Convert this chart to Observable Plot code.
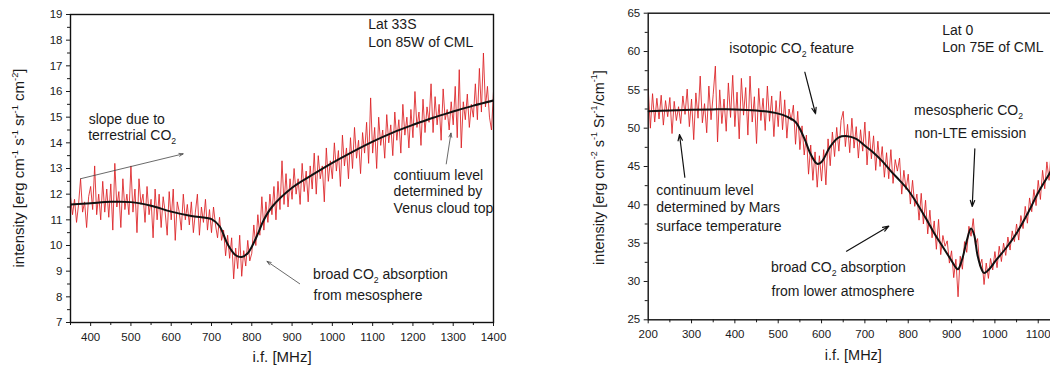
<!DOCTYPE html>
<html><head><meta charset="utf-8">
<script src="https://cdn.jsdelivr.net/npm/d3@7"></script>
<script src="https://cdn.jsdelivr.net/npm/@observablehq/plot@0.6"></script>
<style>
html,body{margin:0;padding:0;background:#fff;overflow:hidden;}
#wrap{position:relative;width:1050px;height:367px;overflow:hidden;}
#wrap svg{position:absolute;top:0;}
</style></head><body><div id="wrap"></div>
<script>
// ---------- Venus (left panel) ----------
const venusStart = 350, venusStep = 5;
const venusNoisy = [
 11.9,11.2,11.8,10.9,11.6,12.6,11.3,11.7,10.7,11.9,
 12.3,11.4,13.1,11.2,12.0,11.0,12.5,11.3,12.2,11.1,
 12.4,10.6,13.2,11.5,12.1,10.7,12.6,11.4,12.0,11.2,
 13.1,11.3,12.2,10.5,12.6,11.6,12.0,10.9,12.3,11.2,
 11.8,10.3,12.2,11.0,12.0,10.7,11.9,11.3,10.4,12.1,
 11.0,12.2,10.2,11.7,11.3,10.6,12.0,11.0,11.6,10.8,
 11.7,10.5,11.3,12.0,10.4,11.5,10.9,11.8,10.6,11.4,
 10.5,11.5,10.8,10.3,11.1,10.2,10.6,9.6,10.4,9.5,
 10.3,8.7,9.9,9.1,10.4,8.8,9.8,9.2,10.2,9.4,
 9.7,10.8,10.0,11.2,10.4,11.9,10.6,11.7,10.9,12.0,
 11.2,12.3,11.0,12.5,11.4,13.3,11.6,12.8,11.5,12.6,
 11.8,13.0,12.0,12.6,11.6,13.2,12.1,12.9,11.7,13.1,
 12.2,13.6,12.0,13.5,12.6,13.1,11.7,13.8,12.5,13.3,
 12.6,14.0,12.9,13.7,12.3,14.3,13.1,13.8,12.6,14.2,
 13.0,14.6,13.4,14.1,12.8,14.4,13.6,14.8,13.2,15.75,
 13.6,14.6,13.0,15.0,13.9,14.5,13.4,15.1,14.0,14.7,
 13.5,15.2,14.1,14.9,13.6,15.5,14.3,15.0,13.8,15.3,
 14.2,16.0,14.6,15.2,13.9,15.7,14.4,15.4,14.8,16.3,
 14.4,15.8,14.7,15.5,14.1,16.1,14.9,15.3,14.5,15.6,
 14.7,16.2,14.2,16.85,13.8,15.6,14.9,15.9,14.6,15.5,
 15.0,16.3,14.9,16.9,15.2,17.5,15.4,16.2,15.0,14.5,
 16.0];
const venusFitFreq = [350,400,450,500,550,600,650,700,720,740,760,775,790,800,815,830,850,900,950,1000,1050,1100,1150,1200,1250,1300,1350,1400];
const venusFitVal  = [11.6,11.65,11.7,11.69,11.55,11.32,11.15,11.03,10.75,10.05,9.62,9.55,9.7,9.95,10.45,11.0,11.5,12.25,12.75,13.22,13.65,14.05,14.4,14.7,14.98,15.22,15.45,15.65];
const venusXTicks = [400,500,600,700,800,900,1000,1100,1200,1300,1400];
const venusXMinor = [350,450,550,650,750,850,950,1050,1150,1250,1350];
const venusYTicks = [7,8,9,10,11,12,13,14,15,16,17,18,19];
const venusYMinor = [7.5,8.5,9.5,10.5,11.5,12.5,13.5,14.5,15.5,16.5,17.5,18.5];

// ---------- Mars (right panel) ----------
const marsStart = 200, marsStep = 5;
const marsNoisy = [
 55.2,50.0,54.5,50.8,53.9,51.2,54.3,50.4,53.6,51.5,
 54.0,49.3,53.5,51.0,52.8,50.6,54.2,51.8,55.1,50.2,
 53.8,48.5,54.6,51.3,56.8,50.7,53.2,49.4,55.5,51.1,
 54.4,58.1,48.2,55.0,50.6,53.8,49.6,55.9,51.4,56.9,
 50.2,54.7,48.6,56.5,51.7,55.3,49.1,56.8,50.8,54.1,
 48.0,55.2,51.0,53.9,49.7,55.5,50.9,54.2,48.9,53.6,
 50.2,54.8,49.8,53.7,48.7,52.5,51.0,53.0,47.9,52.2,
 47.2,50.3,46.5,49.1,44.0,47.8,43.2,46.9,42.3,46.4,
 43.1,47.2,42.6,48.6,45.1,49.5,46.3,50.1,47.0,51.0,
 52.2,47.6,50.5,46.8,51.3,47.4,50.2,46.1,49.8,47.0,
 50.8,45.2,49.6,46.0,49.0,44.5,48.3,45.0,47.6,43.6,
 46.8,43.4,47.2,42.8,45.9,44.4,46.1,41.4,44.5,42.0,
 44.0,40.1,43.2,39.8,41.4,38.0,41.5,37.5,40.6,36.2,
 39.3,35.7,37.9,34.2,38.1,33.5,36.0,34.6,35.3,32.4,
 34.0,30.5,32.9,28.0,33.3,31.6,35.2,33.8,37.2,35.9,
 38.2,34.8,35.6,32.0,32.9,29.6,32.4,30.4,33.0,31.5,
 33.9,31.8,34.6,32.6,35.0,33.4,35.8,34.1,36.6,35.2,
 37.5,35.4,38.6,36.9,39.8,37.6,40.9,39.1,42.0,39.9,
 43.2,40.7,44.5,42.1,45.6,43.2,47.1,44.0,46.5,45.0,
 47.2];
const marsFitFreq = [200,250,300,350,400,450,500,520,540,560,575,590,600,620,640,660,680,700,720,740,760,780,800,820,840,850,860,880,900,910,915,925,935,945,952,960,970,975,990,1000,1025,1050,1075,1100,1125,1150];
const marsFitVal  = [52.2,52.3,52.4,52.45,52.45,52.3,51.9,51.5,50.8,48.7,46.6,45.35,45.6,47.6,48.8,48.95,48.6,47.7,46.8,45.7,44.4,43.2,41.9,40.2,38.3,37.3,36.3,34.5,32.7,31.8,31.6,33.0,35.3,36.9,36.1,33.4,31.5,31.1,31.8,32.6,34.3,36.3,38.8,41.6,44.0,46.5];
const marsXTicks = [200,300,400,500,600,700,800,900,1000,1100];
const marsXMinor = [250,350,450,550,650,750,850,950,1050,1150];
const marsYTicks = [25,30,35,40,45,50,55,60,65];
const marsYMinor = [27.5,32.5,37.5,42.5,47.5,52.5,57.5,62.5];

// ---------- annotations ----------
const venusNotes = [
  {x:1089, y:18.42, t:"Lat 33S"},
  {x:1089, y:17.73, t:"Lon 85W of CML"},
  {x:395,  y:14.75, t:"slope due to"},
  {x:1152, y:12.57, t:"contiuum level"},
  {x:1152, y:11.91, t:"determined by"},
  {x:1152, y:11.26, t:"Venus cloud top"},
  {x:953.5,y:7.86,  t:"from mesosphere"}
];
const venusRich = [
  {x:395,  y:14.09, parts:[["terrestrial CO"],["2","sub"]]},
  {x:953.5,y:8.66,  parts:[["broad CO"],["2","sub"],[" absorption"]]}
];
const venusArrows = [
  {x1:374.8, y1:12.60, x2:629.6, y2:13.57},
  {x1:1282.7,y1:13.18, x2:1294.4,y2:14.38},
  {x1:918.8, y1:8.51,  x2:837.9, y2:9.38}
];
const marsNotes = [
  {x:878.5, y:62.22, t:"Lat 0"},
  {x:878.5, y:59.91, t:"Lon 75E of CML"},
  {x:814.5, y:48.69, t:"non-LTE emission"},
  {x:218.5, y:41.31, t:"continuum level"},
  {x:218.5, y:39.0,  t:"determined by Mars"},
  {x:218.5, y:36.65, t:"surface temperature"},
  {x:484.5, y:28.17, t:"from lower atmosphere"}
];
const marsRich = [
  {x:388.3, y:59.70, parts:[["isotopic CO"],["2","sub"],[" feature"]]},
  {x:814.5, y:51.65, parts:[["mesospheric CO"],["2","sub"]]},
  {x:484.5, y:31.21, parts:[["broad CO"],["2","sub"],[" absorption"]]}
];
const marsArrows = [
  {x1:561.4, y1:57.30, x2:586.1, y2:51.88},
  {x1:953.7, y1:47.31, x2:947.7, y2:39.78},
  {x1:284.5, y1:43.60, x2:272.2, y2:49.17},
  {x1:657.6, y1:33.95, x2:755.2, y2:37.21}
];

const FONT = '"Liberation Sans", Arial, Helvetica, sans-serif';
const INK = "#1a1a1a";
const NOTE_SIZE = 14;

function richText(svg, px, py, parts, size, rotate) {
  const t = d3.select(svg).append("text")
    .attr("font-family", FONT).attr("font-size", size).attr("fill", INK);
  if (rotate) {
    t.attr("transform", `translate(${px},${py}) rotate(-90)`).attr("text-anchor", "middle");
  } else {
    t.attr("x", px).attr("y", py).attr("text-anchor", "start");
  }
  let shift = 0;
  for (const [s, k] of parts) {
    const target = k === "sup" ? -0.42 * size : k === "sub" ? 0.28 * size : 0;
    const ts = t.append("tspan").text(s).attr("dy", target - shift);
    if (k) ts.attr("font-size", size * 0.62);
    shift = target;
  }
  return t;
}

function panel(cfg) {
  const noisy = cfg.noisy.map((v, i) => ({f: cfg.start + i * cfg.step, v}));
  const fit = cfg.fitFreq.map((f, i) => ({f, v: cfg.fitVal[i]}));
  const plain = d => String(d);
  const chart = Plot.plot({
    width: cfg.width, height: 367,
    marginLeft: cfg.ml, marginRight: cfg.mr, marginTop: cfg.mt, marginBottom: cfg.mb,
    x: {domain: cfg.xDomain},
    y: {domain: cfg.yDomain},
    style: {fontFamily: FONT, fontSize: "11px", color: INK, background: "transparent", overflow: "visible"},
    marks: [
      Plot.line(noisy, {x: "f", y: "v", stroke: "#dc1f22", strokeWidth: 0.85, clip: true}),
      Plot.line(fit, {x: "f", y: "v", stroke: "#111", strokeWidth: 2, curve: "catmull-rom", clip: true}),
      Plot.axisX(cfg.xTicks, {tickSize: 4, tickPadding: 6, label: null, fontSize: 11.5, stroke: INK, tickFormat: plain}),
      Plot.axisX(cfg.xMinor, {tickSize: 3, tickFormat: () => "", label: null, stroke: INK}),
      Plot.axisY(cfg.yTicks, {tickSize: 4, tickPadding: 4, label: null, fontSize: 11.5, stroke: INK, tickFormat: plain}),
      Plot.axisY(cfg.yMinor, {tickSize: 3, tickFormat: () => "", label: null, stroke: INK}),
      Plot.frame({stroke: "#111", strokeWidth: 1.4}),
      Plot.text(cfg.notes, {x: "x", y: "y", text: "t", textAnchor: "start", lineAnchor: "bottom", fontSize: NOTE_SIZE, fill: INK}),
      Plot.arrow(cfg.arrows, {x1: "x1", y1: "y1", x2: "x2", y2: "y2", stroke: cfg.arrowColor, strokeWidth: cfg.arrowWidth, headLength: 8, headAngle: 40})
    ]
  });
  chart.style.left = cfg.left + "px";
  const sx = chart.scale("x"), sy = chart.scale("y");
  for (const r of cfg.rich) richText(chart, sx.apply(r.x), sy.apply(r.y), r.parts, NOTE_SIZE, false);
  richText(chart, cfg.yTitlePos[0], cfg.yTitlePos[1], cfg.yTitle, cfg.yTitleSize, true);
  d3.select(chart).append("text").attr("x", cfg.xTitlePos[0]).attr("y", cfg.xTitlePos[1])
    .attr("text-anchor", "middle").attr("font-family", FONT).attr("font-size", cfg.xTitleSize)
    .attr("fill", INK).text("i.f. [MHz]");
  document.getElementById("wrap").appendChild(chart);
}

panel({
  left: 0, width: 510, ml: 70, mr: 17, mt: 14, mb: 45,
  xDomain: [350, 1400], yDomain: [7, 19],
  start: venusStart, step: venusStep, noisy: venusNoisy,
  fitFreq: venusFitFreq, fitVal: venusFitVal,
  xTicks: venusXTicks, xMinor: venusXMinor, yTicks: venusYTicks, yMinor: venusYMinor,
  notes: venusNotes, rich: venusRich, arrows: venusArrows, arrowColor: "#444", arrowWidth: 0.8,
  yTitle: [["intensity [erg cm"],["-1","sup"],[" s"],["-1","sup"],[" sr"],["-1","sup"],[" cm"],["-2","sup"],["]"]],
  yTitlePos: [24, 168], yTitleSize: 15,
  xTitlePos: [282, 362], xTitleSize: 15
});

panel({
  left: 520, width: 560, ml: 127.7, mr: 20.6, mt: 12.7, mb: 47.7,
  xDomain: [200, 1150], yDomain: [25, 65],
  start: marsStart, step: marsStep, noisy: marsNoisy,
  fitFreq: marsFitFreq, fitVal: marsFitVal,
  xTicks: marsXTicks, xMinor: marsXMinor, yTicks: marsYTicks, yMinor: marsYMinor,
  notes: marsNotes, rich: marsRich, arrows: marsArrows, arrowColor: "#111", arrowWidth: 1.2,
  yTitle: [["intensity [erg cm"],["-2","sup"],[" s"],["-1","sup"],[" Sr"],["-1","sup"],["/cm"],["-1","sup"],["]"]],
  yTitlePos: [83.5, 167.5], yTitleSize: 14.5,
  xTitlePos: [333.3, 360], xTitleSize: 14.5
});
</script>
</body></html>
